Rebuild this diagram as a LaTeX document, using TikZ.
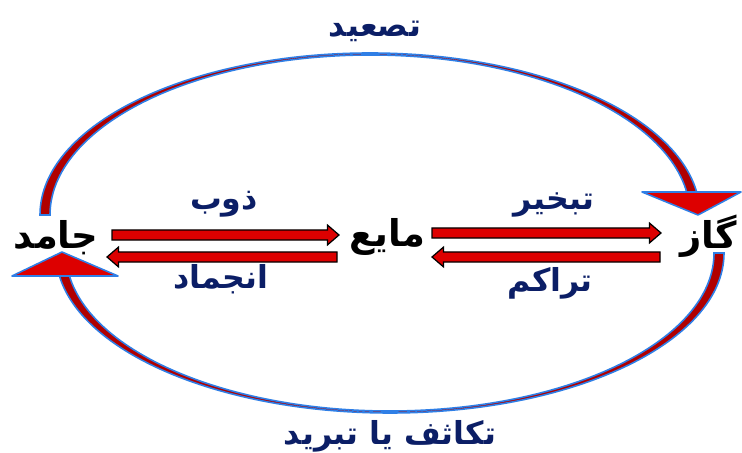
\documentclass[tikz,border=0pt]{standalone}
\usepackage{fontspec}
\usepackage{xcolor}
\usepackage{tikz}
\usetikzlibrary{calc}
\newfontfamily\arabicfont[Script=Arabic]{DejaVu Sans}
\TeXXeTstate=1
\definecolor{phasered}{HTML}{DD0000}
\definecolor{bandred}{HTML}{B00000}
\definecolor{rimblue}{HTML}{2F7FE6}
\definecolor{labelnavy}{HTML}{0B1E66}
\newcommand\fa[1]{{\arabicfont\bfseries\beginR #1\endR}}
\newcommand\phasearrow[2]{%
  \draw[flow] let \p1=(#1), \p2=(#2), \n1={(\x2-\x1)/abs(\x2-\x1)} in
    (\x1,\y1+2.9pt) -- (\x2-\n1*6.5pt,\y1+2.9pt) -- (\x2-\n1*6.5pt,\y1+5.6pt)
    -- (\x2,\y1) -- (\x2-\n1*6.5pt,\y1-5.6pt) -- (\x2-\n1*6.5pt,\y1-2.9pt)
    -- (\x1,\y1-2.9pt) -- cycle;}

\begin{document}
\begin{tikzpicture}[x=0.02cm, y=0.02cm,
  state/.style={font=\fontsize{21}{24}\selectfont, text=black, inner sep=1pt},
  change/.style={font=\fontsize{18}{21}\selectfont, text=labelnavy, inner sep=1pt},
  flow/.style={fill=phasered, draw=black, line width=0.7pt, line join=miter},
  band/.style={fill=bandred, draw=rimblue, line width=0.9pt},
  head/.style={fill=phasered, draw=rimblue, line width=0.9pt, line join=round}]
\useasboundingbox (0,0) rectangle (742,452);
% states
\node[state] (jamed) at (56,214) {\fa{جامد}};
\node[state] (mayeh) at (387,215) {\fa{مایع}};
\node[state] (gaz) at (709,216) {\fa{گاز}};
% big loop, thick at the sides and thin at top and bottom
\coordinate (topc) at (370,237);
\coordinate (botc) at (390,199);
\draw[band] ($(topc)+(180:330 and 162)$)
  arc[start angle=180, end angle=8, x radius=330, y radius=162]
  -- ($(topc)+(8:320 and 160)$)
  arc[start angle=8, end angle=180, x radius=320, y radius=160] -- cycle;
\draw[band] ($(botc)+(0:334 and 160)$)
  arc[start angle=0, end angle=-172, x radius=334, y radius=160]
  -- ($(botc)+(-172:324 and 158)$)
  arc[start angle=-172, end angle=0, x radius=324, y radius=158] -- cycle;
\draw[head] (642,260) -- (741,260) -- (698,237) -- cycle;
\draw[head] (12,176) -- (118,176) -- (62,200) -- cycle;
% arrows between states
\coordinate (meltA) at (112,217);
\coordinate (meltB) at (339,217);
\coordinate (frzA) at (337,195);
\coordinate (frzB) at (107,195);
\coordinate (vapA) at (432,219);
\coordinate (vapB) at (661,219);
\coordinate (conA) at (660,195);
\coordinate (conB) at (432,195);
\phasearrow{meltA}{meltB}
\phasearrow{frzA}{frzB}
\phasearrow{vapA}{vapB}
\phasearrow{conA}{conB}
% labels
\node[change] (melt) at (224,248) {\fa{ذوب}};
\node[change] (freeze) at (221,173) {\fa{انجماد}};
\node[change] (vapor) at (554,247) {\fa{تبخیر}};
\node[change] (cond) at (550,169) {\fa{تراکم}};
\node[change] (sub) at (375,421) {\fa{تصعید}};
\node[change] (dep) at (390,16) {\fa{تکاثف یا تبرید}};
\end{tikzpicture}
\end{document}
